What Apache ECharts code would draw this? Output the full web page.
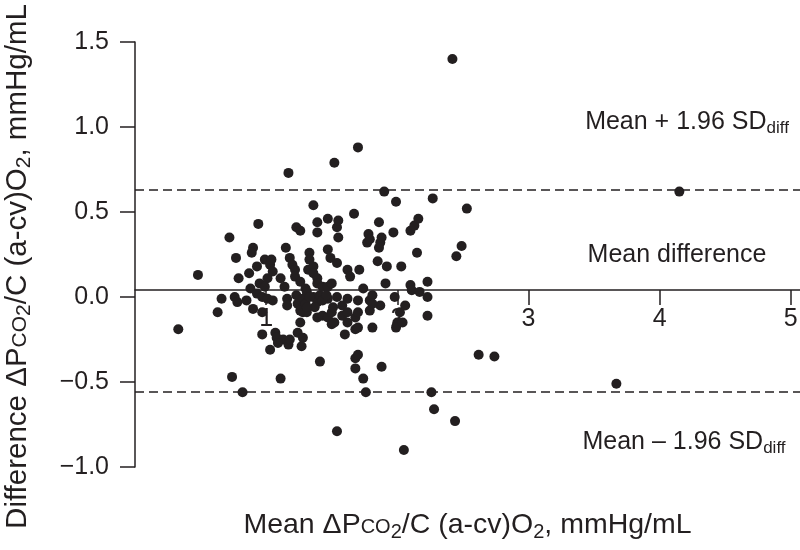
<!DOCTYPE html>
<html><head><meta charset="utf-8">
<script src="https://cdn.jsdelivr.net/npm/echarts@6/dist/echarts.min.js"></script>
<style>html,body{margin:0;padding:0;background:#fff}#c{width:800px;height:550px}</style>
</head><body><div id="c"></div>
<script>
// Bland-Altman data: mean of the two methods (x) and their difference (y)
const meanX = [0.33,0.48,0.63,0.66,0.72,0.74,0.77,0.79,0.76,0.78,
0.82,0.85,0.87,0.88,0.90,0.89,0.90,0.94,0.93,0.93,
0.97,0.97,0.97,0.95,0.99,1.01,0.99,1.01,1.03,1.03,
1.04,1.05,1.05,1.07,1.08,1.11,1.11,1.13,1.14,1.15,
1.16,1.16,1.17,1.17,1.18,1.20,1.22,1.22,1.18,1.23,
1.23,1.24,1.24,1.26,1.26,1.26,1.09,1.28,1.28,1.28,
1.27,1.30,1.31,1.32,1.33,1.33,1.36,1.36,1.36,1.36,
1.39,1.39,1.39,1.39,1.39,1.39,1.41,1.41,1.43,1.43,
1.47,1.47,1.47,1.47,1.47,1.49,1.50,1.50,1.50,1.51,
1.52,1.52,1.54,1.55,1.55,1.54,1.54,1.54,1.58,1.58,
1.60,1.62,1.62,1.62,1.62,1.64,1.67,1.68,1.68,1.68,
1.70,1.70,1.70,1.70,1.70,1.68,1.71,1.74,1.74,1.76,
1.77,1.78,1.79,1.79,1.79,1.81,1.81,1.86,1.86,1.87,
1.88,1.85,1.87,1.88,1.90,1.91,1.92,1.97,1.98,1.99,
2.00,2.02,1.99,2.04,2.03,2.05,2.06,2.10,2.13,2.16,
2.10,2.11,2.15,2.17,2.23,2.23,2.23,2.26,2.28,2.27,
2.42,2.44,2.45,2.49,2.53,2.62,2.74,4.15,3.67,
1.81,1.37,1.30,1.33,1.43,1.46,1.28,1.31,1.26,1.31];
const diffY = [-0.19,0.13,-0.09,-0.01,0.35,-0.47,0.23,0.11,0.00,-0.03,
-0.56,-0.02,0.14,0.05,0.29,0.26,-0.07,0.43,0.18,0.02,
0.00,-0.09,-0.22,0.08,0.22,0.11,0.06,-0.01,0.19,-0.31,
0.22,0.15,-0.02,-0.21,-0.24,0.11,-0.48,-0.25,0.06,0.29,
-0.01,-0.05,-0.28,0.73,0.23,0.19,0.16,0.12,-0.25,0.41,
0.01,-0.04,-0.21,0.39,0.09,-0.15,-0.27,-0.01,-0.06,-0.24,
-0.29,0.05,0.03,0.16,0.26,0.22,0.18,0.14,0.00,0.54,
0.44,0.38,0.11,0.08,-0.03,-0.12,-0.38,0.01,-0.11,0.06,
-0.12,0.46,0.28,0.06,-0.01,0.23,0.08,-0.09,-0.16,-0.06,
0.79,-0.15,0.41,0.45,0.35,0.20,0.00,-0.79,-0.05,-0.11,
-0.22,-0.15,-0.01,-0.09,0.16,0.12,0.49,-0.12,-0.19,-0.36,
-0.34,0.88,-0.02,-0.18,-0.09,-0.42,0.16,0.05,-0.48,-0.56,
0.32,0.37,0.34,-0.02,-0.08,0.01,-0.18,0.44,0.29,0.32,
0.35,0.21,-0.05,-0.41,0.62,0.08,0.18,0.38,0.00,0.56,
-0.15,-0.09,-0.18,-0.15,0.18,-0.90,-0.05,0.39,0.42,0.46,
0.07,0.04,0.26,0.03,0.09,0.00,-0.11,-0.56,-0.66,0.58,
1.40,-0.73,0.24,0.30,0.52,-0.34,-0.35,0.62,-0.51,
-0.04,-0.06,-0.04,0.00,-0.02,0.01,-0.09,-0.09,-0.08,-0.06];
const xTicks = [1, 2, 3, 4, 5];
const meanDiff = 0.041;
const upperLimit = 0.629;
const lowerLimit = -0.559;

const INK = '#231f20';
const FONT = '"Liberation Sans", Arial, Helvetica, sans-serif';
const points = meanX.map((x, i) => [x, diffY[i]]);

const Y_MIN = -1.0, Y_MAX = 1.5;
const GRID = {left: 135, right: 0, top: 42, bottom: 83};
// the x axis is drawn on the mean-difference line (as in the original figure)
const plotH = 550 - GRID.top - GRID.bottom;
const xAxisOffset = -plotH * (meanDiff - Y_MIN) / (Y_MAX - Y_MIN);

const nameRich = (sc, sub) => ({
  sc: {fontFamily: FONT, fontSize: sc, color: INK, padding: [5, 0, 0, 0]},
  sub: {fontFamily: FONT, fontSize: sub, color: INK, padding: [14, 0, 0, 0]}
});
const xName = 'Mean \u0394P{sc|CO}{sub|2}/C (a-cv)O{sub|2}, mmHg/mL';
const yName = 'Difference \u0394P{sc|CO}{sub|2}/C (a-cv)O{sub|2}, mmHg/mL';

const annRich = {
  sub: {fontFamily: FONT, fontSize: 17, fill: INK, padding: [12, 0, 0, 0]}
};

const chart = echarts.init(document.getElementById('c'));
chart.setOption({
  animation: false,
  backgroundColor: '#fff',
  grid: Object.assign({containLabel: false, outerBoundsMode: 'none'}, GRID),
  xAxis: {
    type: 'value', min: 0, max: 5.07, position: 'bottom', offset: xAxisOffset,
    axisLine: {show: true, onZero: false, lineStyle: {color: INK, width: 1.5}},
    axisTick: {show: true, length: 15, customValues: xTicks, lineStyle: {color: INK, width: 1.5}},
    axisLabel: {customValues: xTicks, margin: 17, fontFamily: FONT, fontSize: 25, color: INK},
    splitLine: {show: false},
    name: xName, nameLocation: 'middle', nameGap: 218,
    nameTextStyle: {fontFamily: FONT, fontSize: 28.5, color: INK, rich: nameRich(20, 20)}
  },
  yAxis: {
    type: 'value', min: Y_MIN, max: Y_MAX, interval: 0.5,
    axisLine: {show: true, onZero: false, lineStyle: {color: INK, width: 1.5}},
    axisTick: {show: true, length: 15, lineStyle: {color: INK, width: 1.5}},
    axisLabel: {margin: 26, fontFamily: FONT, fontSize: 25, color: INK,
      formatter: v => (v < 0 ? '\u2212' : '') + Math.abs(v).toFixed(1)},
    splitLine: {show: false},
    name: yName, nameLocation: 'middle', nameRotate: 90, nameGap: 100,
    nameTextStyle: {fontFamily: FONT, fontSize: 29.5, color: INK, padding: [0, 24, 0, 0], rich: nameRich(21, 21)}
  },
  series: [{
    type: 'scatter', data: points, symbol: 'circle', symbolSize: 10,
    itemStyle: {color: INK, opacity: 1}, z: 3,
    markLine: {
      silent: true, symbol: ['none', 'none'], z: 1,
      label: {show: false},
      lineStyle: {color: INK, width: 1.5, type: [9, 5]},
      data: [{yAxis: upperLimit}, {yAxis: lowerLimit}]
    }
  }],
  graphic: [
    {type: 'text', x: 687, y: 122, style: {text: 'Mean + 1.96 SD{sub|diff}', fontFamily: FONT, fontSize: 25, fill: INK, align: 'center', verticalAlign: 'middle', rich: annRich}},
    {type: 'text', x: 677, y: 255, style: {text: 'Mean difference', fontFamily: FONT, fontSize: 25, fill: INK, align: 'center', verticalAlign: 'middle'}},
    {type: 'text', x: 684, y: 442, style: {text: 'Mean \u2013 1.96 SD{sub|diff}', fontFamily: FONT, fontSize: 25, fill: INK, align: 'center', verticalAlign: 'middle', rich: annRich}}
  ]
});
</script></body></html>
